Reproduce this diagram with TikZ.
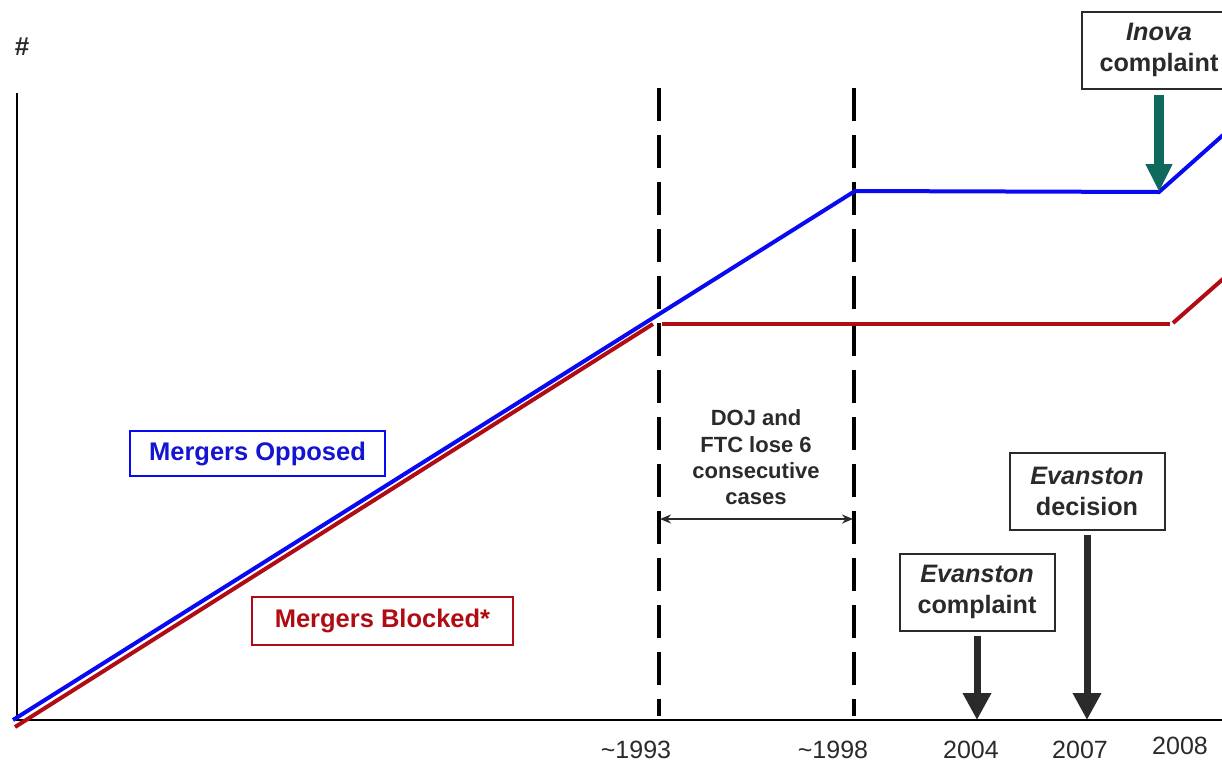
\documentclass[tikz,border=0pt]{standalone}
\usepackage{fontspec}
\setmainfont{Liberation Sans}
\usetikzlibrary{arrows.meta}
\definecolor{ink}{HTML}{2A2A2A}
\definecolor{oppblue}{HTML}{0A0AF2}
\definecolor{opptext}{HTML}{1414D2}
\definecolor{blkred}{HTML}{B00C14}
\definecolor{inovateal}{HTML}{0F6A5D}
\begin{document}
\begin{tikzpicture}[x=0.5pt,y=-0.5pt,
  axisline/.style={line width=1pt,draw=black},
  phaseline/.style={line width=1.75pt,draw=black,dash pattern=on 16.5pt off 7pt},
  oppline/.style={line width=2pt,draw=oppblue},
  blkline/.style={line width=2pt,draw=blkred},
  eventbox/.style={draw=ink,line width=1pt,fill=white,minimum width=77.5pt,
    minimum height=38.5pt,inner sep=0pt,align=center,text=ink,
    font=\fontsize{12.6}{15.3}\selectfont\bfseries},
  legendbox/.style={line width=1pt,fill=white,inner sep=0pt,
    font=\fontsize{12.75}{15}\selectfont\bfseries},
  bigarrow/.style={line width=3.5pt,draw=ink,-{Triangle[width=13.5pt,length=13.5pt]}},
  tealarrow/.style={line width=5pt,draw=inovateal,-{Triangle[width=12.5pt,length=14pt]}},
  spanarrow/.style={line width=1pt,draw=ink,{Stealth[length=5.5pt,width=4.5pt]}-{Stealth[length=5.5pt,width=4.5pt]}},
  yearlabel/.style={text=ink,inner sep=0pt,font=\fontsize{12.5}{15}\selectfont},
  note/.style={text=ink,align=center,inner sep=0pt,font=\fontsize{11}{13.2}\selectfont\bfseries}]
\useasboundingbox (0,0) rectangle (1222,761);
\clip (0,0) rectangle (1222,761);

% axes
\coordinate (origin) at (17,720);
\coordinate (ytop) at (17,93);
\coordinate (xend) at (1240,720);
\draw[axisline] (ytop) -- (origin) -- (xend);
\node[text=ink,inner sep=0pt,font=\fontsize{13}{15}\selectfont\bfseries] (ylab) at (22,47) {\#};

% phase boundaries
\coordinate (d93top) at (659,88);
\coordinate (d93bot) at (659,716);
\coordinate (d98top) at (854,88);
\coordinate (d98bot) at (854,716);
\draw[phaseline] (d93top) -- (d93bot);
\draw[phaseline] (d98top) -- (d98bot);

% mergers opposed
\coordinate (oa) at (13,720);
\coordinate (ob) at (855,191);
\coordinate (oc) at (1159,192);
\coordinate (od) at (1240,120);
\draw[oppline] (oa) -- (ob) -- (oc) -- (od);

% mergers blocked
\coordinate (ba) at (15,727);
\coordinate (bb) at (653,324);
\coordinate (bc) at (662,324);
\coordinate (bd) at (1170,324);
\coordinate (be) at (1173,323);
\coordinate (bf) at (1240,264);
\draw[blkline] (ba) -- (bb);
\draw[blkline] (bc) -- (bd);
\draw[blkline] (be) -- (bf);

% legend
\node[legendbox,draw=oppblue,text=opptext,minimum width=127.5pt,minimum height=22.5pt] (legopp) at (257.5,453.5) {Mergers Opposed};
\node[legendbox,draw=blkred,line width=0.8pt,text=blkred,minimum width=130.5pt,minimum height=24pt] (legblk) at (382.5,621) {Mergers Blocked*};

% losing streak
\node[note] (streak) at (756,457.5) {DOJ and\\FTC lose 6\\consecutive\\cases};
\coordinate (spanl) at (660,519);
\coordinate (spanr) at (853,519);
\draw[spanarrow] (spanl) -- (spanr);

% events
\node[eventbox] (evc) at (977,592) {\textit{Evanston}\\complaint};
\node[eventbox] (evd) at (1087,491.5) {\textit{Evanston}\\decision};
\node[eventbox] (inova) at (1159,50) {\textit{Inova}\\complaint};
\coordinate (t2004) at (977,720);
\coordinate (t2007) at (1087,720);
\draw[bigarrow] ([yshift=-2pt]evc.south) -- (t2004);
\draw[bigarrow] ([yshift=-2pt]evd.south) -- (t2007);
\draw[tealarrow] ([yshift=-2.5pt]inova.south) -- (oc);

% years
\node[yearlabel] (y1993) at (636,750) {\textasciitilde1993};
\node[yearlabel] (y1998) at (833,750) {\textasciitilde1998};
\node[yearlabel] (y2004) at (971,750) {2004};
\node[yearlabel] (y2007) at (1080,750) {2007};
\node[yearlabel] (y2008) at (1180,746) {2008};
\end{tikzpicture}
\end{document}
